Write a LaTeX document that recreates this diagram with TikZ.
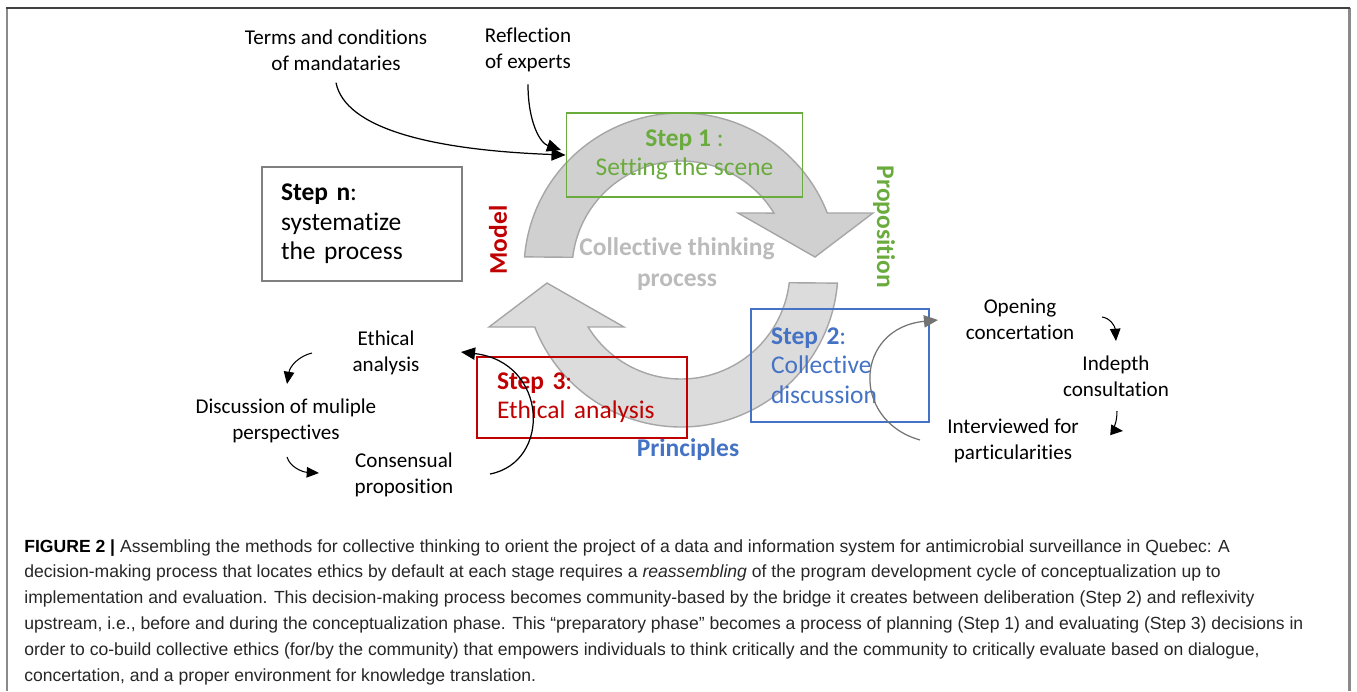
\documentclass[tikz,border=0pt]{standalone}
\usepackage{fontspec}
\setmainfont{Carlito}[Ligatures=NoCommon]
\newfontfamily\capfont{Liberation Sans}
\usetikzlibrary{arrows.meta,positioning}
\definecolor{StepGreen}{HTML}{6AAB3E}
\definecolor{StepBlue}{HTML}{4472C4}
\definecolor{StepRed}{HTML}{C00000}
\definecolor{RingUp}{HTML}{D0D0D0}
\definecolor{RingLow}{HTML}{DCDCDC}
\definecolor{RingEdge}{HTML}{A6A6A6}
\definecolor{CoreGray}{HTML}{BBBBBB}
\definecolor{FrameGray}{HTML}{8A8A8A}

\begin{document}
\begin{tikzpicture}[x=0.02cm,y=-0.02cm,
  lbl/.style={align=center,inner sep=0pt,font=\fontsize{12}{14.7}\selectfont},
  stepbox/.style={draw,line width=1.1pt,inner ysep=0pt,font=\fontsize{14.5}{16.8}\selectfont},
  tag/.style={inner sep=0pt,font=\fontsize{14.5}{17}\selectfont\bfseries},
  ring/.style={draw=RingEdge,line width=0.8pt},
  arr/.style={-{Triangle[length=8pt,width=7pt]},line width=0.7pt},
  hook/.style={-{Triangle[length=7pt,width=6pt]},line width=0.6pt}
]
\useasboundingbox (0,0) rectangle (1357,691);
% frame
\draw[FrameGray,line width=1.2pt] (7,8) -- (7,691);
\draw[FrameGray,line width=1.2pt] (1349.5,8) -- (1349.5,691);
\draw[black!75,line width=1.3pt] (6.4,8) -- (1350.1,8);

% circular arrows
\begin{scope}[shift={(681,270)}]
  \fill[RingUp] (184.8:157) arc[start angle=184.8,end angle=338.7,radius=157]
    -- (192,-57) -- (134,-13) -- (57,-57) -- (328.5:109)
    arc[start angle=328.5,end angle=186.7,radius=109] -- cycle;
  \draw[ring] (184.8:157) arc[start angle=184.8,end angle=338.7,radius=157]
    -- (192,-57) -- (134,-13) -- (57,-57) -- (328.5:109)
    arc[start angle=328.5,end angle=186.7,radius=109] -- cycle;
\end{scope}
\begin{scope}[shift={(681,270)},rotate=180]
  \fill[RingLow] (184.8:157) arc[start angle=184.8,end angle=338.7,radius=157]
    -- (192,-57) -- (134,-13) -- (57,-57) -- (328.5:109)
    arc[start angle=328.5,end angle=186.7,radius=109] -- cycle;
  \draw[ring] (184.8:157) arc[start angle=184.8,end angle=338.7,radius=157]
    -- (192,-57) -- (134,-13) -- (57,-57) -- (328.5:109)
    arc[start angle=328.5,end angle=186.7,radius=109] -- cycle;
\end{scope}

\node[tag,text=CoreGray,align=center,font=\fontsize{14.5}{18}\selectfont\bfseries] (core) at (677,264) {Collective thinking\\process};
\node[tag,text=StepRed,rotate=90] (model) at (498,240) {Model};
\node[tag,text=StepGreen,rotate=-90] (prop) at (884,227) {Proposition};
\node[tag,text=StepBlue] (princ) at (688,450) {Principles};

% step boxes
\node[stepbox,draw=StepGreen,text=StepGreen,align=center,minimum width=4.72cm,minimum height=1.68cm] (step1) at (684.5,155)
  {\textbf{Step 1} :\\Setting the scene};
\node[stepbox,draw=black!50,align=left,minimum width=4cm,minimum height=2.28cm,inner xsep=0.38cm,text width=3.24cm] (stepn) at (362,224)
  {\textbf{Step n}:\\systematize\\the process};
\node[stepbox,draw=StepBlue,text=StepBlue,align=left,minimum width=3.56cm,minimum height=2.26cm,inner xsep=0.4cm,text width=2.76cm] (step2) at (840,365.5)
  {\textbf{Step 2}:\\Collective\\discussion};
\node[stepbox,draw=StepRed,text=StepRed,align=left,minimum width=4.2cm,minimum height=1.62cm,inner xsep=0.4cm,text width=3.4cm] (step3) at (582,397.5)
  {\textbf{Step 3}:\\Ethical analysis};

% inputs
\node[lbl] (terms) at (336,50) {Terms and conditions\\of mandataries};
\node[lbl] (reflect) at (528,50) {Reflection\\of experts};
\coordinate (reftip) at (561,150);
\draw[arr] (terms.south) ++(0,12) .. controls (345,128) and (430,150) .. (step1.west);
\draw[arr] (reflect.south) ++(0,12) .. controls (528,122) and (540,143) .. (reftip);

% step 3 loop
\node[lbl] (ethic) at (386,353) {Ethical\\analysis};
\node[lbl] (multi) at (286,421) {Discussion of muliple\\perspectives};
\node[lbl] (consens) at (404,475) {Consensual\\proposition};
\coordinate (e1) at (312,353);
\coordinate (e2) at (287,384);
\coordinate (m1) at (287,457);
\coordinate (m2) at (319,473);
\coordinate (s3a) at (490,474);
\coordinate (s3b) at (461,352);
\draw[hook] (e1) .. controls (299,356) and (290,366) .. (e2);
\draw[hook] (m1) .. controls (290,467) and (302,472) .. (m2);
\draw[arr] (s3a) .. controls (552,462) and (548,362) .. (s3b);

% step 2 loop
\node[lbl] (open) at (1020,319) {Opening\\concertation};
\node[lbl] (indepth) at (1116,376) {Indepth\\consultation};
\node[lbl] (interv) at (1013,441) {Interviewed for\\particularities};
\coordinate (o1) at (1102,317);
\coordinate (o2) at (1116,341);
\coordinate (i1) at (1117,411);
\coordinate (i2) at (1123,431);
\coordinate (s2a) at (920,440);
\coordinate (s2b) at (938,320);
\draw[hook] (o1) .. controls (1110,318) and (1115,326) .. (o2);
\draw[hook] (i1) .. controls (1117,424) and (1113,430) .. (i2);
\draw[arr,draw=black!55] (s2a) .. controls (850,420) and (855,328) .. (s2b);

% caption
\node[anchor=north west,inner sep=0pt,align=left,text=black!85,font=\capfont\fontsize{10}{14.74}\selectfont] (caption) at (24,539)
  {\textbf{\color{black}FIGURE 2 |} Assembling the methods for collective thinking to orient the project of a data and information system for antimicrobial surveillance in Quebec: A\\
  decision-making process that locates ethics by default at each stage requires a \textit{reassembling} of the program development cycle of conceptualization up to\\
  implementation and evaluation. This decision-making process becomes community-based by the bridge it creates between deliberation (Step 2) and reflexivity\\
  upstream, i.e., before and during the conceptualization phase. This “preparatory phase” becomes a process of planning (Step 1) and evaluating (Step 3) decisions in\\
  order to co-build collective ethics (for/by the community) that empowers individuals to think critically and the community to critically evaluate based on dialogue,\\
  concertation, and a proper environment for knowledge translation.};
\end{tikzpicture}
\end{document}
